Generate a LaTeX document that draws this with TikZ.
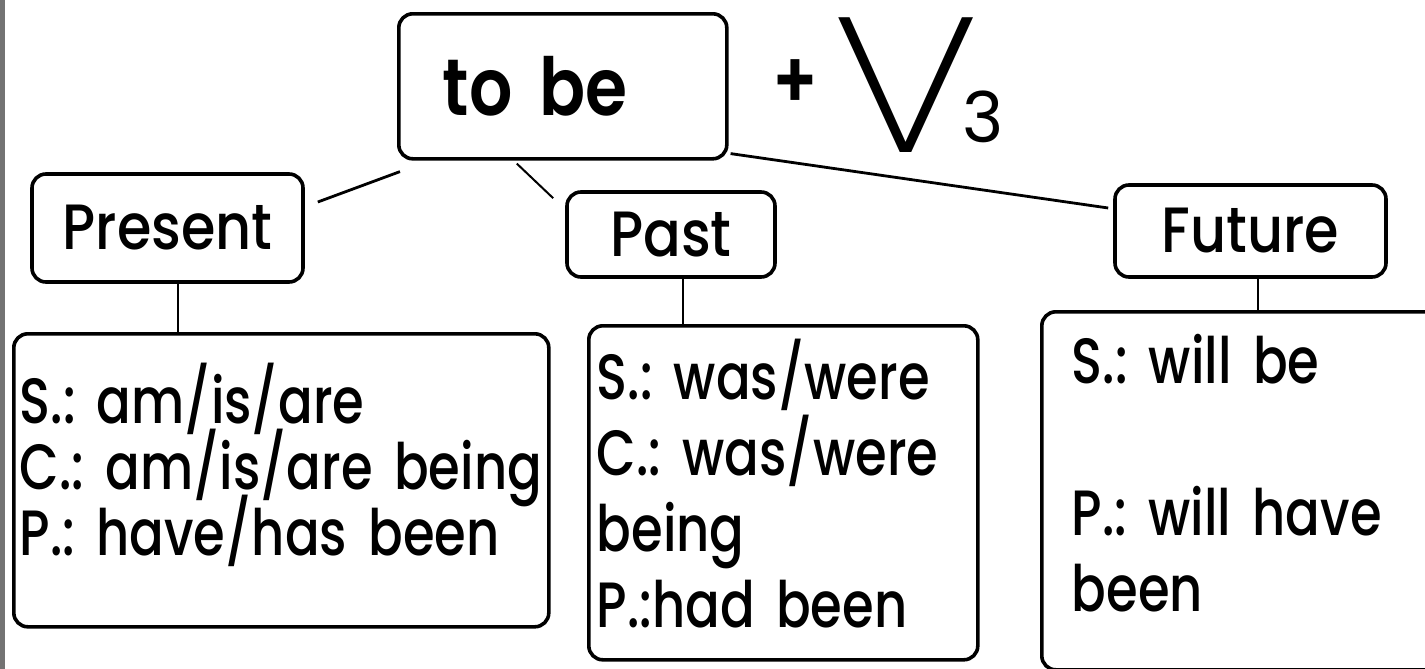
\documentclass[tikz,border=0pt]{standalone}
\usepackage{fontspec}
\IfFontExistsTF{Poppins Medium}
  {\setmainfont{Poppins Medium}[FakeStretch=0.8]
   \newfontfamily\tensefont{Poppins Medium}[FakeStretch=0.87]}
  {\setmainfont{Poppins}[FakeStretch=0.8]
   \newfontfamily\tensefont{Poppins}[FakeStretch=0.87]}
\IfFontExistsTF{Poppins SemiBold}
  {\newfontfamily\headfont{Poppins SemiBold}[FakeStretch=0.85]}
  {\newfontfamily\headfont{Poppins}[FakeStretch=0.85]}
\newfontfamily\plainfont{Poppins}
\IfFontExistsTF{Poppins ExtraLight}
  {\newfontfamily\thinfont{Poppins ExtraLight}[FakeStretch=1.2]}
  {\IfFontExistsTF{Poppins Light}
    {\newfontfamily\thinfont{Poppins Light}[FakeStretch=1.2]}
    {\newfontfamily\thinfont{Poppins}[FakeStretch=1.2]}}
\newcommand\tightlines{\lineskiplimit=-50pt\relax}
\frenchspacing
\begin{document}
\begin{tikzpicture}[x=0.5pt,y=-0.5pt,
    box/.style={draw,line width=1.8pt,rounded corners=7pt,inner sep=0pt},
    tense/.style={box,font=\tensefont\fontsize{32}{36}\selectfont},
    usage/.style={box,align=left,anchor=north west},
    link/.style={line width=1.4pt}]
  \useasboundingbox (0,0) rectangle (1425,669);
  \clip (0,0) rectangle (1425,669);
  \fill[white] (0,0) rectangle (1425,669);
  \fill[black!55] (0,0) rectangle (5,669);
  % head
  \node[box,anchor=north west,minimum height=72.5pt,text width=120pt,inner xsep=22pt,
        font=\headfont\fontsize{40}{44}\selectfont] (tobe) at (397,12) {to be};
  \node[font=\headfont\fontsize{40}{44}\selectfont] (plus) at (795,84) {+};
  \node[anchor=base,inner sep=0pt,font=\thinfont\fontsize{96}{100}\selectfont] (verb) at (906,152) {V};
  \node[anchor=base west,inner sep=0pt,font=\plainfont\fontsize{35}{40}\selectfont] (index) at (962,142) {3};
  % tenses
  \node[tense,minimum width=135.5pt,minimum height=54pt] (present) at (167.5,228) {Present};
  \node[tense,minimum width=104pt,minimum height=42.5pt] (past) at (671,234.5) {Past};
  \node[tense,minimum width=135.5pt,minimum height=46pt] (future) at (1250.5,231) {Future};
  % forms
  \node[usage,text width=261.5pt,inner xsep=3pt,minimum height=146.5pt,text depth=87pt,
        font=\fontsize{32}{33}\selectfont\tightlines] (presentforms) at (12,332)
        {S.: am/is/are\\C.: am/is/are being\\P.: have/has been};
  \node[usage,text width=186.5pt,inner xsep=4pt,minimum height=167pt,text depth=123.5pt,
        font=\fontsize{32}{38}\selectfont\tightlines] (pastforms) at (587,324)
        {S.: was/were\\C.: was/were\\being\\P.:had been};
  \node[usage,text width=172.5pt,inner xsep=15pt,minimum height=179pt,text depth=131.5pt,
        font=\fontsize{32}{38}\selectfont\tightlines] (futureforms) at (1040,310)
        {S.: will be\\[38pt]P.: will have\\been};
  % links
  \draw[link] ([xshift=6.5pt,yshift=13pt]present.east) -- ([xshift=1.5pt,yshift=-5.5pt]tobe.south west);
  \draw[link,line width=1pt] ([xshift=-23pt,yshift=-1.5pt]tobe.south) -- ([xshift=-6pt,yshift=-4pt]past.north west);
  \draw[link] ([xshift=1pt,yshift=3.5pt]tobe.south east) -- ([xshift=-2.5pt,yshift=11.5pt]future.west);
  \draw[link,transform canvas={xshift=5.25pt}] (present.south) -- (present.south |- presentforms.north);
  \draw[link,transform canvas={xshift=6pt}] (past.south) -- (past.south |- pastforms.north);
  \draw[link,transform canvas={xshift=3.75pt}] (future.south) -- (future.south |- futureforms.north);
\end{tikzpicture}
\end{document}
